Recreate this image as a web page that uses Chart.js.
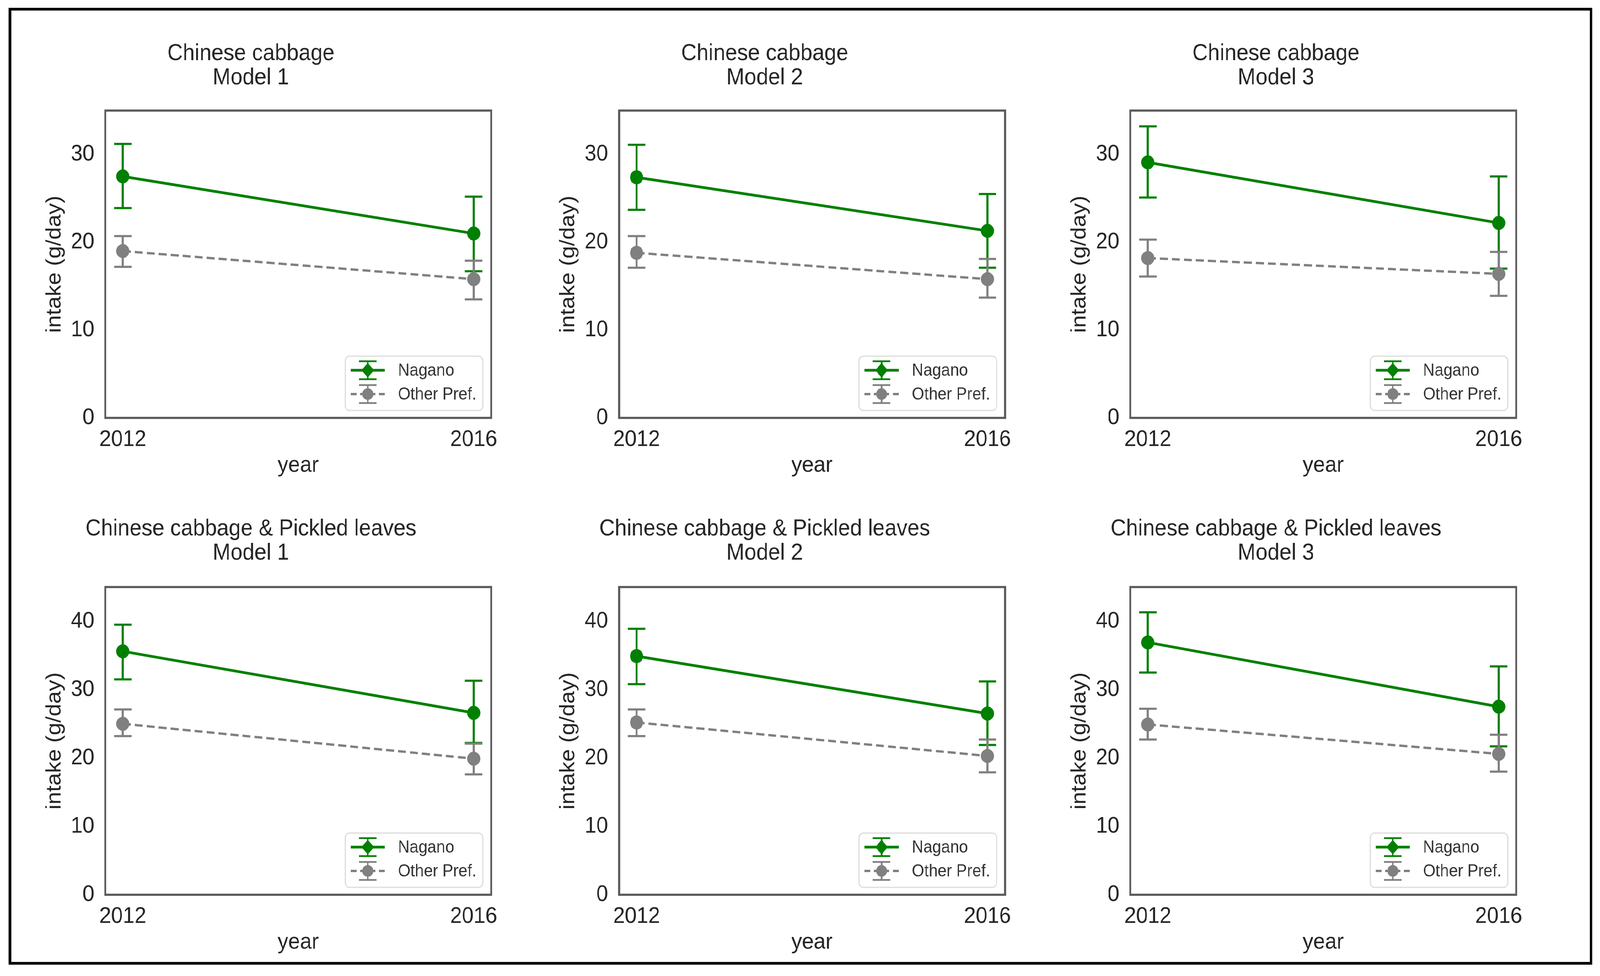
<!DOCTYPE html>
<html>
<head>
<meta charset="utf-8">
<script src="https://cdn.jsdelivr.net/npm/chart.js@4.4.1/dist/chart.umd.min.js"></script>
<style>
  html, body { margin: 0; padding: 0; background: #fff; overflow: hidden; }
  #page { position: relative; width: 4394px; height: 2499px; background: #fff; overflow: hidden; transform-origin: 0 0; }
  #frame { position: absolute; left: 24px; top: 20px; width: 4349px; height: 2450px; border: 7px solid #000; box-sizing: border-box; }
  canvas { position: absolute; }
</style>
</head>
<body>
<div id="page"><div id="frame"></div></div>
<script>
const years = [2012, 2016];
const seriesNames = ['Nagano', 'Other Pref.'];
const panelTitles = [
  ['Chinese cabbage', 'Model 1'],
  ['Chinese cabbage', 'Model 2'],
  ['Chinese cabbage', 'Model 3'],
  ['Chinese cabbage & Pickled leaves', 'Model 1'],
  ['Chinese cabbage & Pickled leaves', 'Model 2'],
  ['Chinese cabbage & Pickled leaves', 'Model 3']
];
const topTicks = [0, 10, 20, 30];
const bottomTicks = [0, 10, 20, 30, 40];

// values per panel: [2012, 2016]
const naganoMean = [[27.5, 21.0], [27.4, 21.3], [29.1, 22.2], [35.6, 26.6], [34.9, 26.5], [36.9, 27.5]];
const naganoLow  = [[23.9, 16.7], [23.7, 17.1], [25.1, 17.0], [31.5, 22.2], [30.8, 21.9], [32.5, 21.7]];
const naganoHigh = [[31.2, 25.2], [31.1, 25.5], [33.2, 27.5], [39.5, 31.3], [38.9, 31.2], [41.3, 33.4]];
const otherMean  = [[19.0, 15.8], [18.8, 15.8], [18.2, 16.4], [25.0, 19.9], [25.2, 20.3], [24.9, 20.6]];
const otherLow   = [[17.2, 13.5], [17.1, 13.7], [16.1, 13.9], [23.2, 17.6], [23.2, 17.9], [22.7, 18.0]];
const otherHigh  = [[20.7, 17.9], [20.7, 18.1], [20.3, 18.9], [27.1, 22.1], [27.1, 22.7], [27.2, 23.4]];

const GREEN = '#008000';
const GREY = '#808080';
const TEXT = '#262626';
const FONT = "'Liberation Sans', Arial, sans-serif";

const plotLefts = [289, 1700, 3104];
const rows = [
  { top: 0,    height: 1240, titleTop: 106, titleBottom: 52, ymax: 35, ticks: topTicks },
  { top: 1250, height: 1211, titleTop: 73,  titleBottom: 55, ymax: 45, ticks: bottomTicks }
];
const AXIS_W = 260, RIGHT_PAD = 110, PLOT_W = 1060, XAXIS_H = 170;

// the window may be narrower than 4394px; stretch the layout to fill it
const sx = window.innerWidth / 4394, sy = window.innerHeight / 2499;
document.getElementById('page').style.transform = `scale(${sx}, ${sy})`;

const errorBars = {
  id: 'errorBars',
  beforeDatasetDraw(chart, args) {
    const ds = chart.data.datasets[args.index];
    if (!ds.errLow) return;
    const { ctx, scales: { x, y } } = chart;
    ctx.save();
    ctx.strokeStyle = ds.borderColor;
    ctx.lineWidth = 5.5;
    ctx.setLineDash([]);
    ds.data.forEach((p, j) => {
      const px = x.getPixelForValue(p.x);
      const lo = y.getPixelForValue(ds.errLow[j]);
      const hi = y.getPixelForValue(ds.errHigh[j]);
      ctx.beginPath();
      ctx.moveTo(px, lo); ctx.lineTo(px, hi);
      ctx.moveTo(px - 24, lo); ctx.lineTo(px + 24, lo);
      ctx.moveTo(px - 24, hi); ctx.lineTo(px + 24, hi);
      ctx.stroke();
    });
    ctx.restore();
  }
};

const spines = {
  id: 'spines',
  afterDatasetsDraw(chart) {
    const { ctx, chartArea: a } = chart;
    ctx.save();
    ctx.strokeStyle = '#5a5a5a';
    ctx.lineWidth = 5.5;
    ctx.strokeRect(a.left, a.top, a.right - a.left, a.bottom - a.top);
    ctx.restore();
  }
};

const boxLegend = {
  id: 'boxLegend',
  afterDraw(chart) {
    const { ctx, chartArea: a } = chart;
    const w = 378, h = 139;
    const bx = a.right - 23 - w, by = a.bottom - 19 - h;
    ctx.save();
    ctx.fillStyle = 'rgba(255,255,255,0.85)';
    ctx.strokeStyle = '#dcdcdc';
    ctx.lineWidth = 3;
    ctx.beginPath();
    ctx.roundRect(bx, by, w, h, 12);
    ctx.fill();
    ctx.stroke();
    chart.data.datasets.forEach((ds, k) => {
      const cy = by + 36 + k * 61;
      const cx = bx + 62;
      ctx.strokeStyle = ds.borderColor;
      ctx.fillStyle = ds.borderColor;
      ctx.lineWidth = ds.borderWidth;
      ctx.setLineDash(ds.borderDash ? [16, 10] : []);
      ctx.beginPath();
      ctx.moveTo(cx - 47, cy); ctx.lineTo(cx + 47, cy);
      ctx.stroke();
      ctx.setLineDash([]);
      ctx.lineWidth = 4.5;
      ctx.beginPath();
      ctx.moveTo(cx, cy - 23); ctx.lineTo(cx, cy + 23);
      ctx.moveTo(cx - 24, cy - 23); ctx.lineTo(cx + 24, cy - 23);
      ctx.moveTo(cx - 24, cy + 23); ctx.lineTo(cx + 24, cy + 23);
      ctx.stroke();
      ctx.beginPath();
      if (k === 0) {
        ctx.moveTo(cx, cy - 19); ctx.lineTo(cx + 17, cy); ctx.lineTo(cx, cy + 19); ctx.lineTo(cx - 17, cy);
        ctx.closePath();
      } else {
        ctx.arc(cx, cy, 15, 0, Math.PI * 2);
      }
      ctx.fill();
      ctx.fillStyle = '#333';
      ctx.font = `44px ${FONT}`;
      ctx.textAlign = 'left';
      ctx.textBaseline = 'middle';
      ctx.fillText(ds.label, bx + 145, cy + 2);
    });
    ctx.restore();
  }
};

function makePanel(i) {
  const row = rows[Math.floor(i / 3)];
  const left = plotLefts[i % 3] - AXIS_W;
  const canvas = document.createElement('canvas');
  canvas.width = AXIS_W + PLOT_W + RIGHT_PAD;
  canvas.height = row.height;
  canvas.style.left = left + 'px';
  canvas.style.top = row.top + 'px';
  document.getElementById('page').appendChild(canvas);

  const pts = vals => years.map((yr, j) => ({ x: yr, y: vals[j] }));

  new Chart(canvas, {
    type: 'line',
    data: {
      datasets: [
        { label: seriesNames[0], data: pts(naganoMean[i]), errLow: naganoLow[i], errHigh: naganoHigh[i],
          borderColor: GREEN, backgroundColor: GREEN, borderWidth: 7, pointRadius: 18, pointBorderWidth: 0,
          pointBackgroundColor: GREEN, tension: 0, order: 2 },
        { label: seriesNames[1], data: pts(otherMean[i]), errLow: otherLow[i], errHigh: otherHigh[i],
          borderColor: GREY, backgroundColor: GREY, borderWidth: 6, borderDash: [22, 11], pointRadius: 18,
          pointBorderWidth: 0, pointBackgroundColor: GREY, tension: 0, order: 1 }
      ]
    },
    options: {
      responsive: false,
      animation: false,
      devicePixelRatio: 1,
      layout: { padding: { left: 0, top: 0, right: RIGHT_PAD, bottom: 0 } },
      plugins: {
        legend: { display: false },
        tooltip: { enabled: false },
        title: {
          display: true, text: panelTitles[i], color: TEXT,
          font: { family: FONT, size: 59, weight: 'normal', lineHeight: 1.06 },
          padding: { top: row.titleTop, bottom: row.titleBottom }
        }
      },
      scales: {
        x: {
          type: 'linear', min: 2011.8, max: 2016.2,
          afterBuildTicks: s => { s.ticks = years.map(v => ({ value: v })); },
          afterFit: s => { s.height = XAXIS_H; },
          grid: { display: false, drawTicks: false },
          border: { display: false },
          ticks: { color: TEXT, padding: 21, font: { family: FONT, size: 58 }, callback: v => String(v) },
          title: { display: true, text: 'year', color: TEXT, font: { family: FONT, size: 58 }, padding: { bottom: 13 } }
        },
        y: {
          min: 0, max: row.ymax,
          afterBuildTicks: s => { s.ticks = row.ticks.map(v => ({ value: v })); },
          afterFit: s => { s.width = AXIS_W; },
          grid: { display: false, drawTicks: false },
          border: { display: false },
          ticks: { color: TEXT, padding: 30, font: { family: FONT, size: 58 } },
          title: { display: true, text: 'intake (g/day)', color: TEXT, font: { family: FONT, size: 58 }, padding: { top: 86 } }
        }
      }
    },
    plugins: [errorBars, spines, boxLegend]
  });
}

for (let i = 0; i < 6; i++) makePanel(i);
</script>
</body>
</html>
